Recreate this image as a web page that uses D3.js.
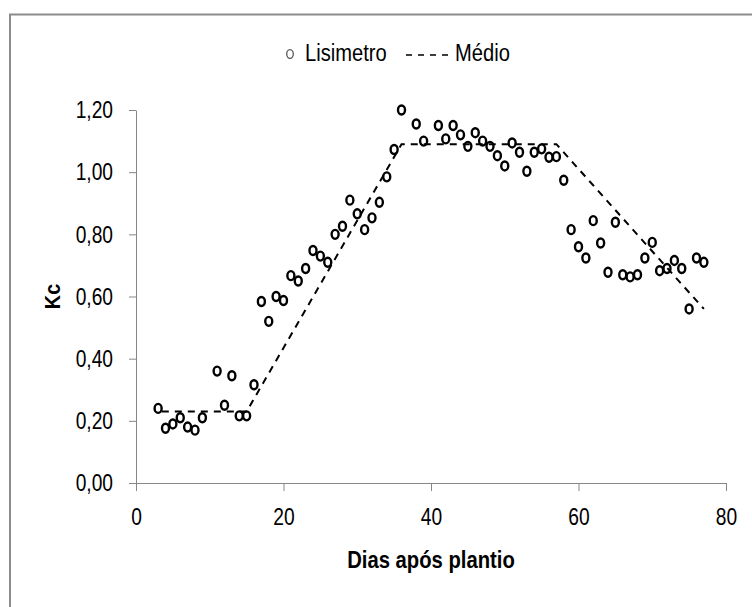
<!DOCTYPE html>
<html>
<head>
<meta charset="utf-8">
<script src="https://cdn.jsdelivr.net/npm/d3@7"></script>
<style>
  body { margin: 0; background: #fff; }
  text { font-family: "Liberation Sans", Arial, sans-serif; }
</style>
</head>
<body>
<svg id="chart"></svg>
<script>
width = 752;
height = 607;
margin = { top: 110, right: 26, bottom: 124, left: 136 };

// Lisimetro (observed Kc)
lisDays = [3, 4, 5, 6, 7, 8, 9, 11, 12, 13, 14, 15, 16, 17, 18, 19, 20, 21, 22, 23, 24, 25, 26,
  27, 28, 29, 30, 31, 32, 33, 34, 35, 36, 38, 39, 41, 42, 43, 44, 45, 46, 47, 48, 49, 50,
  51, 52, 53, 54, 55, 56, 57, 58, 59, 60, 61, 62, 63, 64, 65, 66, 67, 68, 69, 70, 71, 72,
  73, 74, 75, 76, 77];
lisKc = [0.24, 0.176, 0.19, 0.21, 0.18, 0.17, 0.21, 0.36, 0.25, 0.345, 0.216, 0.216, 0.316,
  0.584, 0.52, 0.60, 0.587, 0.667, 0.65, 0.69, 0.748, 0.73, 0.71,
  0.80, 0.826, 0.91, 0.866, 0.815, 0.853, 0.903, 0.985, 1.073, 1.20, 1.155, 1.10, 1.15,
  1.107, 1.15, 1.12, 1.083, 1.127, 1.10, 1.083, 1.053, 1.02,
  1.094, 1.064, 1.003, 1.064, 1.075, 1.048, 1.05, 0.974, 0.815, 0.76, 0.724, 0.844, 0.772,
  0.678, 0.839, 0.67, 0.663, 0.67, 0.724, 0.774, 0.683, 0.69,
  0.716, 0.69, 0.56, 0.724, 0.71];

// Médio (Kc by phase)
medDays = [3.5, 15, 36, 57, 77];
medKc = [0.23, 0.23, 1.09, 1.09, 0.56];

xTicks = [0, 20, 40, 60, 80];
yTicks = [0, 0.2, 0.4, 0.6, 0.8, 1.0, 1.2];

const fmt = d => d3.format('.2f')(d).replace('.', ',');
const axisColor = '#868686';
const squeeze = 0.8; // source font is a condensed face

const svg = d3.select('#chart').attr('width', width).attr('height', height);

// frame (only top and left edges are visible)
svg.append('path')
  .attr('d', `M10,${height} V14.5 H${width}`)
  .attr('fill', 'none')
  .attr('stroke', '#8c8c8c')
  .attr('stroke-width', 2);

x = d3.scaleLinear().domain([0, 80]).range([margin.left, width - margin.right]);
y = d3.scaleLinear().domain([0, 1.2]).range([height - margin.bottom, margin.top]);

xAxis = g =>
  g
    .attr('transform', `translate(0,${height - margin.bottom})`)
    .call(d3.axisBottom(x).tickValues(xTicks).tickSize(8).tickPadding(17).tickSizeOuter(0))
    .call(g => g.select('.domain').attr('stroke', axisColor))
    .call(g => g.selectAll('.tick line').attr('stroke', axisColor))
    .call(g => g.selectAll('.tick text').attr('fill', '#000').attr('font-size', 24)
      .attr('font-family', '"Liberation Sans", sans-serif')
      .attr('transform', `scale(${squeeze},1)`));

yAxis = g =>
  g
    .attr('transform', `translate(${margin.left},0)`)
    .call(d3.axisLeft(y).tickValues(yTicks).tickFormat(fmt).tickSize(7).tickPadding(16).tickSizeOuter(0))
    .call(g => g.select('.domain').attr('stroke', axisColor))
    .call(g => g.selectAll('.tick line').attr('stroke', axisColor))
    .call(g => g.selectAll('.tick text').attr('fill', '#000').attr('font-size', 24)
      .attr('font-family', '"Liberation Sans", sans-serif')
      .attr('x', -23 / squeeze)
      .attr('transform', `scale(${squeeze},1)`));

svg.append('g').call(xAxis);
svg.append('g').call(yAxis);

// Médio dashed line
const line = d3.line().x(d => x(d[0])).y(d => y(d[1]));
svg.append('path')
  .datum(d3.zip(medDays, medKc))
  .attr('d', line)
  .attr('fill', 'none')
  .attr('stroke', '#000')
  .attr('stroke-width', 2)
  .attr('stroke-dasharray', '7,6');

// Lisimetro markers
svg.append('g')
  .selectAll('ellipse')
  .data(d3.zip(lisDays, lisKc))
  .join('ellipse')
  .attr('cx', d => x(d[0]))
  .attr('cy', d => y(d[1]))
  .attr('rx', 3.5)
  .attr('ry', 4.5)
  .attr('fill', 'none')
  .attr('stroke', '#000')
  .attr('stroke-width', 2.4);

// axis titles
svg.append('g')
  .attr('transform', `translate(${(x(0) + x(80)) / 2},568) scale(0.88,1)`)
  .append('text')
  .attr('text-anchor', 'middle')
  .attr('font-weight', 'bold')
  .attr('font-size', 23)
  .text('Dias após plantio');

svg.append('g')
  .attr('transform', `translate(60,${(y(0) + y(1.2)) / 2}) rotate(-90) scale(0.9,1)`)
  .append('text')
  .attr('text-anchor', 'middle')
  .attr('font-weight', 'bold')
  .attr('font-size', 22)
  .text('Kc');

// legend
const lg = svg.append('g').attr('transform', 'translate(0,52)');
lg.append('ellipse')
  .attr('cx', 290).attr('cy', 2).attr('rx', 3.3).attr('ry', 4.3)
  .attr('fill', 'none').attr('stroke', '#555').attr('stroke-width', 1.3);
lg.append('g').attr('transform', `translate(305,9) scale(0.84,1)`)
  .append('text').attr('font-size', 24)
  .text('Lisimetro');
lg.append('line')
  .attr('x1', 406).attr('x2', 451).attr('y1', 3).attr('y2', 3)
  .attr('stroke', '#000').attr('stroke-width', 1.6).attr('stroke-dasharray', '6,6');
lg.append('g').attr('transform', `translate(455,9) scale(0.84,1)`)
  .append('text').attr('font-size', 24)
  .text('Médio');
</script>
</body>
</html>
